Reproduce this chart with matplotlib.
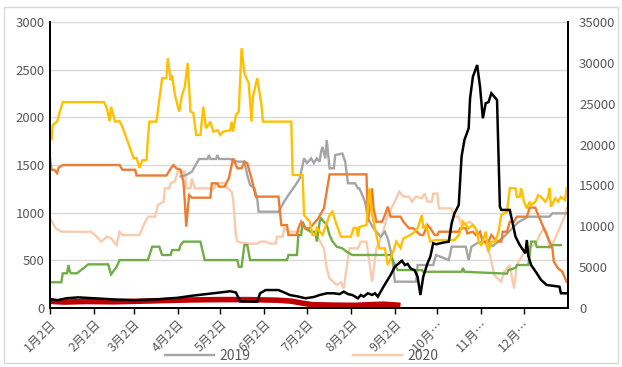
import matplotlib
matplotlib.use("Agg")
import matplotlib.pyplot as plt
from matplotlib.patches import Rectangle
import pandas as pd

plt.rcParams['font.family'] = ['Noto Sans CJK SC', 'DejaVu Sans']

# (day offset from Jan 2, value) pairs for each series
yellow = [(0,1800),(1,1760),(2,1920),(5,1955),(7,2060),(9,2160),(38,2160),(40,2100),(42,1960),(43,2110),
          (46,1955),(49,1960),(51,1900),(59,1570),(61,1573),(63,1470),(65,1550),(68,1550),(69,1780),(70,1955),
          (75,1955),(79,2410),(82,2410),(83,2620),(85,2390),(86,2440),(88,2235),(91,2060),(93,2235),(95,2320),
          (97,2570),(99,2060),(101,2045),(103,1815),(106,1815),(108,2110),(110,1885),(113,1955),(115,1850),
          (118,1865),(120,1815),(122,1850),(127,1865),(128,1955),(129,1850),(131,2025),(133,2060),(135,2725),
          (137,2460),(140,2360),(142,1955),(143,2215),(146,2410),(149,2130),(150,1955),(170,1955),(171,1395),
          (178,1395),(179,975),(183,905),(185,766),(187,766),(188,840),(192,766),(197,975),(199,1010),(202,870),
          (205,748),(212,748),(214,840),(216,840),(217,748),(218,850),(223,870),(225,1255),(227,975),(232,626),
          (236,626),(238,450),(241,556),(244,696),(247,630),(249,730),(254,766),(257,800),(259,836),(262,975),
          (263,836),(265,870),(268,696),(271,713),(285,713),(288,766),(290,836),(291,905),(295,836),(298,870),
          (301,800),(302,696),(304,660),(307,800),(309,591),(311,696),(314,696),(316,800),(318,975),(322,1010),
          (324,1255),(328,1255),(329,1165),(331,1165),(332,1255),(334,1115),(336,1045),(338,1115),(339,1080),
          (342,1115),(344,1185),(346,1165),(349,1115),(351,1165),(352,1255),(353,1063),(356,1150),(358,1115),
          (360,1165),(363,1130),(364,1255)]

orange = [(0,1570),(1,1450),(3,1450),(5,1415),(6,1470),(9,1500),(49,1500),(51,1450),(60,1450),(61,1390),
          (82,1390),(86,1483),(87,1500),(89,1465),(92,1450),(94,1325),(95,1115),(96,853),(98,1185),(100,1157),
          (113,1157),(114,1308),(118,1308),(119,1273),(123,1273),(126,1360),(129,1570),(132,1465),(135,1465),
          (137,1535),(139,1518),(142,1360),(145,1168),(161,1168),(163,870),(167,870),(168,766),(174,766),
          (175,836),(177,905),(180,836),(183,836),(189,940),(191,993),(193,1045),(197,1402),(223,1402),(224,905),
          (227,1255),(228,1045),(230,905),(234,905),(236,975),(238,1063),(240,958),(247,958),(249,905),(253,836),
          (256,836),(261,766),(263,766),(266,870),(268,836),(271,766),(273,766),(274,800),(288,800),(289,836),
          (293,836),(294,783),(298,800),(300,766),(303,800),(305,696),(309,696),(311,766),(313,730),(315,696),
          (318,696),(319,800),(322,800),(324,905),(327,905),(329,958),(336,958),(338,1053),(342,1053),(343,1010),
          (344,975),(346,905),(349,800),(352,696),(354,626),(355,486),(358,416),(361,381),(363,311),(364,276)]

grey_2019 = [(92,1380),(96,1395),(100,1430),(105,1563),(111,1563),(112,1605),(113,1563),(117,1563),(118,1605),
             (119,1563),(127,1563),(132,1535),(137,1535),(139,1395),(141,1290),(144,1255),(146,1150),(147,1010),
             (161,1010),(165,1115),(168,1185),(173,1290),(176,1360),(179,1570),(181,1520),(184,1570),(186,1520),
             (188,1570),(190,1535),(191,1640),(192,1690),(194,1570),(195,1762),(197,1465),(200,1465),(201,1605),
             (206,1620),(208,1535),(210,1308),(215,1308),(217,1255),(218,1255),(222,1115),(224,940),(228,836),
             (233,748),(236,800),(238,730),(241,540),(243,276),(258,276),(259,451),(270,451),(272,556),(281,503),
             (283,643),(293,643),(295,503),(297,643),(301,680),(305,700),(312,650),(320,750),(330,900),(337,958),
             (352,958),(354,993),(364,993)]

pink_2020 = [(0,940),(4,836),(8,800),(29,800),(33,748),(36,696),(40,748),(43,730),(47,661),(49,800),(51,765),
             (63,765),(66,870),(69,958),(74,958),(76,1080),(80,1115),(81,1255),(84,1255),(85,1308),(88,1330),
             (90,1430),(95,1430),(96,1255),(99,1255),(100,1360),(102,1255),(116,1255),(117,1308),(123,1308),
             (125,1255),(128,1220),(129,1150),(131,766),(132,696),(140,675),(146,675),(148,696),(152,696),(155,675),
             (159,675),(160,748),(164,748),(165,836),(168,800),(176,800),(179,836),(183,800),(188,760),(193,626),
             (195,416),(197,311),(202,241),(205,270),(207,206),(209,416),(211,626),(217,626),(219,696),(223,696),
             (225,486),(227,276),(230,626),(234,766),(238,975),(243,1115),(246,1220),(249,1168),(253,1168),
             (255,1115),(258,1168),(262,1150),(264,1200),(266,1115),(269,1115),(270,1200),(273,1200),(274,1045),
             (283,1045),(285,958),(288,958),(290,870),(296,905),(300,836),(302,766),(306,696),(310,556),(313,346),
             (318,276),(320,380),(324,450),(326,276),(327,206),(329,451),(333,556),(337,626),(341,660),(343,696),
             (345,766),(348,836),(350,800),(352,626),(355,700),(359,836),(363,975),(364,1050)]

green = [(0,270),(8,270),(9,364),(12,364),(13,451),(14,380),(15,364),(19,364),(27,458),(41,458),(43,353),
         (47,433),(49,503),(69,503),(72,643),(77,643),(79,556),(85,556),(86,608),(91,608),(92,661),(94,696),
         (106,696),(109,503),(132,503),(133,433),(135,433),(137,661),(139,661),(141,503),(167,503),(168,556),
         (174,556),(175,766),(177,766),(178,905),(180,836),(184,800),(187,800),(188,696),(190,905),(191,940),
         (195,870),(197,766),(199,700),(202,643),(206,626),(209,591),(213,556),(240,556),(243,451),(245,398),
         (262,398),(263,380),(290,380),(291,420),(292,380),(322,360),(323,398),(328,420),(329,451),(337,451),
         (338,556),(339,696),(342,696),(343,640),(352,640),(353,660),(360,660)]

dark_red = [(0,70),(10,62),(25,68),(45,65),(60,70),(80,78),(100,85),(120,88),(140,88),(160,82),(170,72),
            (178,50),(185,35),(200,30),(215,28),(225,35),(235,40),(245,30)]

# black series uses the right-hand axis
black = [(0,1100),(5,950),(12,1200),(20,1300),(30,1200),(45,1050),(60,950),(75,1050),(90,1250),(100,1500),
         (110,1700),(120,1900),(127,2050),(131,1900),(134,800),(146,770),(148,1800),(152,2200),(161,2200),
         (165,1900),(169,1590),(175,1400),(180,1190),(186,1350),(190,1590),(195,1800),(200,1800),(204,1700),
         (207,2000),(210,1700),(213,1590),(217,1190),(219,1590),(221,1400),(224,1800),(227,1600),(229,1800),
         (231,1380),(235,2610),(240,4040),(243,5050),(248,5790),(250,5260),(252,5400),(254,4860),(257,4600),
         (259,3830),(261,1590),(263,3830),(266,5470),(268,6280),(270,7920),(272,7800),(277,8000),(281,8120),
         (283,10370),(285,11590),(288,12600),(290,18520),(292,20560),(295,21990),(296,25670),(298,28310),
         (301,29740),(303,27090),(305,23220),(307,25060),(309,25200),(311,26280),(314,25670),(315,25460),
         (317,12400),(318,12000),(324,12000),(326,10370),(328,8730),(331,7710),(335,6690),(336,8320),
         (337,6400),(339,5260),(343,4250),(346,3430),(350,2820),(359,2610),(360,1800),(364,1800)]

start = pd.Timestamp(2019, 1, 2)
months = list(range(1, 13))
tick_days = [(pd.Timestamp(2019, m, 2) - start).days for m in months]
tick_labels = [f"{m}月2日" if m < 10 else f"{m}月…" for m in months]

left_ticks = list(range(0, 3001, 500))
right_ticks = list(range(0, 35001, 5000))

fig = plt.figure(figsize=(6.22, 3.67), dpi=100)
ax = fig.add_axes([50/622, 59/367, 518/622, 286/367])
ax2 = ax.twinx()

def draw(axis, pts, color, lw, z=2):
    xs = [p[0] for p in pts]
    ys = [p[1] for p in pts]
    return axis.plot(xs, ys, color=color, lw=lw, zorder=z, solid_joinstyle='miter')[0]

ln19 = draw(ax, grey_2019, '#A5A5A5', 1.7, 2)
ln20 = draw(ax, pink_2020, '#F8CBAD', 1.7, 1.9)
draw(ax, green, '#70AD47', 1.7, 2.1)
draw(ax, orange, '#ED7D31', 1.7, 2.2)
draw(ax, yellow, '#FFC000', 1.7, 2.3)
draw(ax, dark_red, '#C00000', 4.0, 2.4)
draw(ax2, black, '#000000', 1.8, 3)

ax.set_xlim(0, 365)
ax.set_ylim(0, 3000)
ax2.set_ylim(0, 35000)
ax.set_yticks(left_ticks)
ax2.set_yticks(right_ticks)
ax.set_xticks(tick_days)
ax.set_xticklabels(tick_labels, rotation=45, ha='right', rotation_mode='anchor')

ax.grid(axis='y', color='#D9D9D9', lw=1)
ax.set_axisbelow(True)

for a in (ax, ax2):
    a.spines['top'].set_visible(False)
    for s in ('left', 'right', 'bottom'):
        a.spines[s].set_color('black')
        a.spines[s].set_linewidth(1.4)
ax.tick_params(axis='y', length=0, labelsize=9.5, labelcolor='#595959', pad=4)
ax2.tick_params(axis='y', length=0, labelsize=9.5, labelcolor='#595959', pad=8)
ax.tick_params(axis='x', length=4, width=1, color='black', labelsize=9, labelcolor='#595959', pad=3)

fig.legend([ln19, ln20], ['2019', '2020'], loc='center', bbox_to_anchor=(0.485, 0.03),
           ncol=2, frameon=False, handlelength=3.5, handletextpad=0.4, columnspacing=7.4,
           fontsize=10, labelcolor='#595959')

fig.patches.append(Rectangle((4/622, 4/367), 614/622, 356/367, transform=fig.transFigure,
                             fill=False, edgecolor='#D9D9D9', lw=1))

fig.savefig('out.png', dpi=100)
